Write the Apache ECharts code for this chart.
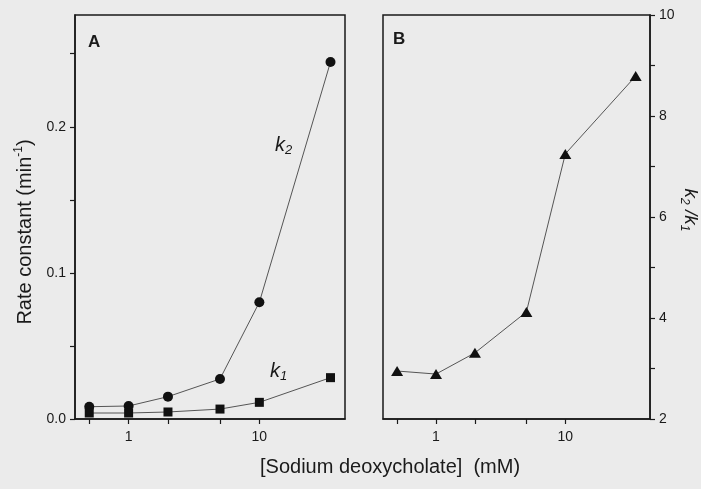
<!DOCTYPE html>
<html>
<head>
<meta charset="utf-8">
<script src="https://cdn.jsdelivr.net/npm/echarts@6/dist/echarts.min.js"></script>
<style>
  html, body { margin: 0; padding: 0; background: #ebebeb; }
  #chart { width: 701px; height: 489px; }
</style>
</head>
<body>
<div id="chart"></div>
<script>
// [Sodium deoxycholate] in mM
const concentration = [0.5, 1, 2, 5, 10, 35]
// rate constants, min^-1
const k1 = [0.0041, 0.0041, 0.0048, 0.0068, 0.0114, 0.0283]
const k2 = [0.0084, 0.0089, 0.0153, 0.0274, 0.0799, 0.2443]
// k2/k1
const ratio = [2.95, 2.89, 3.31, 4.12, 7.25, 8.79]

const xTicks = [0.5, 1, 2, 5, 10]
const xLabels = [1, 10]
const rateTicks = [0, 0.05, 0.1, 0.15, 0.2, 0.25]
const rateLabels = [0, 0.1, 0.2]
const ratioTicks = [2, 3, 4, 5, 6, 7, 8, 9, 10]
const ratioLabels = [2, 4, 6, 8, 10]

const font = 'Liberation Sans, Arial, sans-serif'
const ink = '#1a1a1a'
const lineColor = '#555'

const log = v => Math.log10(v)
const pairs = (ys) => concentration.map((c, i) => [log(c), ys[i]])

function xAxis(gridIndex) {
  return {
    type: 'value',
    gridIndex,
    min: -0.41,
    max: 1.655,
    splitLine: { show: false },
    axisLine: { onZero: false, lineStyle: { color: ink, width: 1.5 } },
    axisTick: { length: 5, customValues: xTicks.map(log), lineStyle: { color: ink, width: 1.2 } },
    axisLabel: {
      customValues: xLabels.map(log),
      formatter: v => String(Math.round(Math.pow(10, v))),
      margin: 11,
      color: ink,
      fontFamily: font,
      fontSize: 14
    }
  }
}

const kText = (sub, size) => ({
  text: '{i|k}{sub|' + sub + '}',
  rich: {
    i: { fontFamily: font, fontSize: size, fontStyle: 'italic', fill: ink, lineHeight: 24 },
    sub: { fontFamily: font, fontSize: 13, fontStyle: 'italic', fill: ink, lineHeight: 24, verticalAlign: 'bottom' }
  }
})

const chart = echarts.init(document.getElementById('chart'))

chart.setOption({
  backgroundColor: '#ebebeb',
  animation: false,
  grid: [
    { left: 75, top: 15, width: 270, height: 404, show: true, borderColor: ink, borderWidth: 1.5 },
    { left: 383, top: 15, width: 269, height: 404, show: true, borderColor: ink, borderWidth: 1.5 }
  ],
  xAxis: [xAxis(0), xAxis(1)],
  yAxis: [{
    type: 'value',
    gridIndex: 0,
    min: 0,
    max: 0.2765,
    splitLine: { show: false },
    axisLine: { show: true, onZero: false, lineStyle: { color: ink, width: 1.5 } },
    axisTick: { show: true, length: 5, customValues: rateTicks, lineStyle: { color: ink, width: 1.2 } },
    axisLabel: {
      customValues: rateLabels,
      formatter: v => v.toFixed(1),
      margin: 9,
      color: ink,
      fontFamily: font,
      fontSize: 14
    },
    name: '{a|Rate constant (min}{sup|-1}{a|)}',
    nameLocation: 'middle',
    nameGap: 38,
    nameTextStyle: {
      padding: [0, 0, 0, -30],
      rich: {
        a: { fontFamily: font, fontSize: 20, color: ink, lineHeight: 24 },
        sup: { fontFamily: font, fontSize: 12, color: ink, lineHeight: 24, verticalAlign: 'top' }
      }
    }
  }, {
    type: 'value',
    gridIndex: 1,
    position: 'right',
    min: 2,
    max: 10,
    splitLine: { show: false },
    axisLine: { show: true, onZero: false, lineStyle: { color: ink, width: 1.5 } },
    axisTick: { show: true, length: 5, customValues: ratioTicks, lineStyle: { color: ink, width: 1.2 } },
    axisLabel: {
      customValues: ratioLabels,
      margin: 9,
      color: ink,
      fontFamily: font,
      fontSize: 14
    },
    name: '{i|k}{sub|2}{i| /}{i|k}{sub|1}',
    nameLocation: 'middle',
    nameRotate: -90,
    nameGap: 28,
    nameTextStyle: {
      padding: [0, 0, 0, -14],
      rich: {
        i: { fontFamily: font, fontSize: 19, fontStyle: 'italic', color: ink, lineHeight: 24 },
        sub: { fontFamily: font, fontSize: 12, fontStyle: 'italic', color: ink, lineHeight: 24, verticalAlign: 'bottom' }
      }
    }
  }],
  series: [{
    name: 'k2',
    type: 'line',
    xAxisIndex: 0,
    yAxisIndex: 0,
    data: pairs(k2),
    symbol: 'circle',
    symbolSize: 10,
    itemStyle: { color: '#111' },
    lineStyle: { color: lineColor, width: 1 }
  }, {
    name: 'k1',
    type: 'line',
    xAxisIndex: 0,
    yAxisIndex: 0,
    data: pairs(k1),
    symbol: 'rect',
    symbolSize: 9,
    itemStyle: { color: '#111' },
    lineStyle: { color: lineColor, width: 1 }
  }, {
    name: 'k2/k1',
    type: 'line',
    xAxisIndex: 1,
    yAxisIndex: 1,
    data: pairs(ratio),
    symbol: 'triangle',
    symbolSize: [12, 10],
    itemStyle: { color: '#111' },
    lineStyle: { color: lineColor, width: 1 }
  }],
  graphic: [
    { type: 'text', left: 88, top: 34, style: { text: 'A', font: 'bold 17px ' + font, fill: ink } },
    { type: 'text', left: 393, top: 31, style: { text: 'B', font: 'bold 17px ' + font, fill: ink } },
    { type: 'text', left: 275, top: 135, style: kText('2', 20) },
    { type: 'text', left: 270, top: 361, style: kText('1', 20) },
    {
      type: 'text', left: 260, top: 457,
      style: { text: '[Sodium deoxycholate]  (mM)', font: '20px ' + font, fill: ink }
    }
  ]
})
</script>
</body>
</html>
